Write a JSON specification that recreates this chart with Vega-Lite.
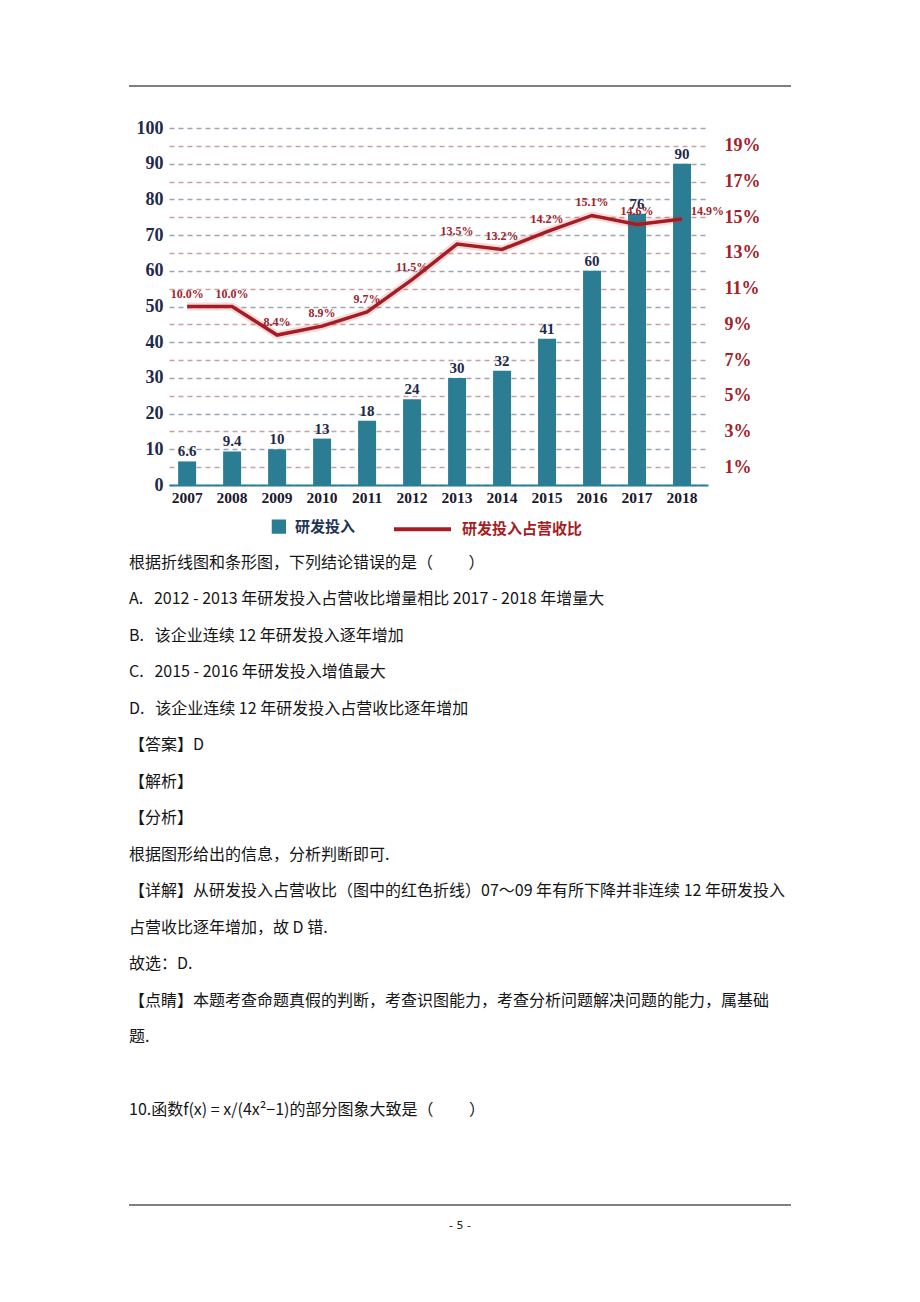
{
  "$schema": "https://vega.github.io/schema/vega-lite/v6.json",
  "background": "white",
  "padding": {"left": 128, "top": 85, "right": 0, "bottom": 0},
  "config": {"view": {"stroke": null}, "axis": {"labelOverlap": false}},
  "spacing": 0,
  "bounds": "flush",
  "datasets": {
    "rd": [
      {"year": 2007, "rd": 6.6, "pct": 0.100},
      {"year": 2008, "rd": 9.4, "pct": 0.100},
      {"year": 2009, "rd": 10, "pct": 0.084},
      {"year": 2010, "rd": 13, "pct": 0.089},
      {"year": 2011, "rd": 18, "pct": 0.097},
      {"year": 2012, "rd": 24, "pct": 0.115},
      {"year": 2013, "rd": 30, "pct": 0.135},
      {"year": 2014, "rd": 32, "pct": 0.132},
      {"year": 2015, "rd": 41, "pct": 0.142},
      {"year": 2016, "rd": 60, "pct": 0.151},
      {"year": 2017, "rd": 76, "pct": 0.146},
      {"year": 2018, "rd": 90, "pct": 0.149}
    ],
    "lines": [
      {"line": 0, "text": "根据折线图和条形图，下列结论错误的是（　　 ）"},
      {"line": 1, "text": "A.\u00a0\u00a0 2012 - 2013 年研发投入占营收比增量相比 2017 - 2018 年增量大"},
      {"line": 2, "text": "B.\u00a0\u00a0 该企业连续 12 年研发投入逐年增加"},
      {"line": 3, "text": "C.\u00a0\u00a0 2015 - 2016 年研发投入增值最大"},
      {"line": 4, "text": "D.\u00a0\u00a0 该企业连续 12 年研发投入占营收比逐年增加"},
      {"line": 5, "text": "【答案】D"},
      {"line": 6, "text": "【解析】"},
      {"line": 7, "text": "【分析】"},
      {"line": 8, "text": "根据图形给出的信息，分析判断即可."},
      {"line": 9, "text": "【详解】从研发投入占营收比（图中的红色折线）07～09 年有所下降并非连续 12 年研发投入"},
      {"line": 10, "text": "占营收比逐年增加，故 D 错."},
      {"line": 11, "text": "故选：D."},
      {"line": 12, "text": "【点睛】本题考查命题真假的判断，考查识图能力，考查分析问题解决问题的能力，属基础"},
      {"line": 13, "text": "题."},
      {"line": 15, "text": "10.函数f(x) = x/(4x²−1)的部分图象大致是（　　 ）"}
    ]
  },
  "vconcat": [
    {
      "width": 662,
      "height": 42,
      "data": {"values": [{}]},
      "mark": {"type": "rule", "color": "#000000", "strokeWidth": 1, "xOffset": -40, "x2Offset": -40},
      "encoding": {
        "x": {"datum": 0, "type": "quantitative", "scale": {"domain": [0, 1]}, "axis": null},
        "x2": {"datum": 1},
        "y": {"datum": 1, "type": "quantitative", "scale": {"domain": [0, 1]}, "axis": null}
      }
    },
    {
      "width": 539,
      "height": 357,
      "data": {"name": "rd"},
      "layer": [
        {
          "layer": [
            {
              "mark": {"type": "bar", "color": "#2a7d93"},
              "encoding": {
                "x": {
                  "field": "year", "type": "ordinal",
                  "scale": {"paddingInner": 0.6, "paddingOuter": 0.29, "align": 0.35},
                  "axis": {
                    "title": null, "labelAngle": 0, "ticks": false,
                    "domain": true, "domainColor": "#2b7f97", "domainWidth": 2,
                    "labelFont": "Liberation Serif", "labelFontWeight": "bold",
                    "labelFontSize": 15.5, "labelColor": "#1b1b2b", "labelPadding": 5
                  }
                },
                "y": {
                  "field": "rd", "type": "quantitative",
                  "scale": {"domain": [0, 100], "nice": false},
                  "axis": {
                    "title": null, "orient": "left",
                    "values": [0, 5, 10, 15, 20, 25, 30, 35, 40, 45, 50, 55, 60, 65, 70, 75, 80, 85, 90, 95, 100],
                    "labelExpr": "datum.value % 10 === 0 ? datum.label : ''",
                    "labelOverlap": false,
                    "domain": false, "ticks": false,
                    "grid": true, "gridDash": [5, 4], "gridWidth": 1.5,
                    "gridColor": {"condition": {"test": "datum.value % 10 === 0", "value": "#9aa6b4"}, "value": "#c9a0a4"},
                    "labelFont": "Liberation Serif", "labelFontWeight": "bold",
                    "labelFontSize": 18, "labelColor": "#1e2a4a", "labelPadding": 6
                  }
                },
                "color": {
                  "datum": "研发投入",
                  "scale": {"domain": ["研发投入", "研发投入占营收比"], "range": ["#2a7d93", "#a51d24"]},
                  "legend": {
                    "orient": "none", "legendX": 56, "legendY": 410,
                    "direction": "horizontal", "title": null,
                    "symbolSize": 3249, "labelOffset": 9, "columnPadding": 30,
                    "labelFont": "Noto Sans CJK SC", "labelFontWeight": "bold", "labelFontSize": 15,
                    "encode": {
                      "symbols": {"update": {
                        "shape": {"signal": "datum.value === '研发投入' ? 'M0.64,-0.18H1V0.18H0.64Z' : 'stroke'"},
                        "fill": {"signal": "datum.value === '研发投入' ? '#3a8aa2' : 'transparent'"},
                        "stroke": {"signal": "datum.value === '研发投入' ? 'transparent' : '#a51d24'"},
                        "strokeWidth": {"value": 4},
                        "opacity": {"value": 1}
                      }},
                      "labels": {"update": {
                        "fill": {"signal": "datum.value === '研发投入' ? '#1f3556' : '#a51d24'"}
                      }}
                    }
                  }
                }
              }
            },
            {
              "mark": {"type": "text", "dy": -10, "font": "Liberation Serif", "fontWeight": "bold", "fontSize": 15, "color": "#1e2a4a"},
              "encoding": {
                "x": {"field": "year", "type": "ordinal", "title": null},
                "y": {
                  "field": "rd", "type": "quantitative",
                  "scale": {"domain": [0, 100], "nice": false},
                  "axis": {
                    "title": null, "orient": "left",
                    "values": [0, 5, 10, 15, 20, 25, 30, 35, 40, 45, 50, 55, 60, 65, 70, 75, 80, 85, 90, 95, 100],
                    "labelExpr": "datum.value % 10 === 0 ? datum.label : ''",
                    "labelOverlap": false,
                    "domain": false, "ticks": false,
                    "grid": true, "gridDash": [5, 4], "gridWidth": 1.5,
                    "gridColor": {"condition": {"test": "datum.value % 10 === 0", "value": "#9aa6b4"}, "value": "#c9a0a4"},
                    "labelFont": "Liberation Serif", "labelFontWeight": "bold",
                    "labelFontSize": 18, "labelColor": "#1e2a4a", "labelPadding": 6
                  }
                },
                "text": {"field": "rd", "type": "quantitative"}
              }
            }
          ]
        },
        {
          "layer": [
            {
              "mark": {"type": "line", "strokeWidth": 8, "opacity": 0.18, "color": "#d03030"},
              "encoding": {
                "x": {"field": "year", "type": "ordinal", "title": null},
                "y": {
                  "field": "pct", "type": "quantitative",
                  "scale": {"domain": [0, 0.2], "nice": false},
                  "axis": {
                    "title": null, "orient": "right",
                    "values": [0.01, 0.03, 0.05, 0.07, 0.09, 0.11, 0.13, 0.15, 0.17, 0.19],
                    "format": ".0%", "domain": false, "ticks": false, "grid": false,
                    "labelOverlap": false,
                    "labelFont": "Liberation Serif", "labelFontWeight": "bold",
                    "labelFontSize": 18, "labelColor": "#a3222a", "labelPadding": 16
                  }
                }
              }
            },
            {
              "mark": {"type": "line", "strokeWidth": 3.5},
              "encoding": {
                "x": {"field": "year", "type": "ordinal", "title": null},
                "y": {
                  "field": "pct", "type": "quantitative",
                  "scale": {"domain": [0, 0.2], "nice": false},
                  "axis": {
                    "title": null, "orient": "right",
                    "values": [0.01, 0.03, 0.05, 0.07, 0.09, 0.11, 0.13, 0.15, 0.17, 0.19],
                    "format": ".0%", "domain": false, "ticks": false, "grid": false,
                    "labelOverlap": false,
                    "labelFont": "Liberation Serif", "labelFontWeight": "bold",
                    "labelFontSize": 18, "labelColor": "#a3222a", "labelPadding": 16
                  }
                },
                "color": {"datum": "研发投入占营收比"}
              }
            },
            {
              "transform": [{"filter": "datum.year !== 2018"}],
              "mark": {"type": "text", "dy": -13, "font": "Liberation Serif", "fontWeight": "bold", "fontSize": 12, "color": "#a0232b"},
              "encoding": {
                "x": {"field": "year", "type": "ordinal", "title": null},
                "y": {
                  "field": "pct", "type": "quantitative",
                  "scale": {"domain": [0, 0.2], "nice": false},
                  "axis": {
                    "title": null, "orient": "right",
                    "values": [0.01, 0.03, 0.05, 0.07, 0.09, 0.11, 0.13, 0.15, 0.17, 0.19],
                    "format": ".0%", "domain": false, "ticks": false, "grid": false,
                    "labelOverlap": false,
                    "labelFont": "Liberation Serif", "labelFontWeight": "bold",
                    "labelFontSize": 18, "labelColor": "#a3222a", "labelPadding": 16
                  }
                },
                "text": {"field": "pct", "type": "quantitative", "format": ".1%"}
              }
            },
            {
              "transform": [{"filter": "datum.year === 2018"}],
              "mark": {"type": "text", "align": "left", "dx": 9, "dy": -8, "font": "Liberation Serif", "fontWeight": "bold", "fontSize": 12, "color": "#a0232b"},
              "encoding": {
                "x": {"field": "year", "type": "ordinal", "title": null},
                "y": {
                  "field": "pct", "type": "quantitative",
                  "scale": {"domain": [0, 0.2], "nice": false},
                  "axis": {
                    "title": null, "orient": "right",
                    "values": [0.01, 0.03, 0.05, 0.07, 0.09, 0.11, 0.13, 0.15, 0.17, 0.19],
                    "format": ".0%", "domain": false, "ticks": false, "grid": false,
                    "labelOverlap": false,
                    "labelFont": "Liberation Serif", "labelFontWeight": "bold",
                    "labelFontSize": 18, "labelColor": "#a3222a", "labelPadding": 16
                  }
                },
                "text": {"field": "pct", "type": "quantitative", "format": ".1%"}
              }
            }
          ]
        }
      ],
      "resolve": {"scale": {"y": "independent"}}
    },
    {
      "width": 662,
      "height": 720,
      "data": {"name": "lines"},
      "mark": {"type": "text", "align": "left", "baseline": "middle", "dx": -40, "font": "Noto Sans CJK SC", "fontSize": 16, "color": "#151515"},
      "encoding": {
        "x": {"datum": 0, "type": "quantitative", "scale": {"domain": [0, 1]}, "axis": null},
        "y": {"field": "line", "type": "quantitative", "scale": {"domain": [-2.137, 17.59], "reverse": true, "nice": false, "zero": false}, "axis": null},
        "text": {"field": "text"}
      }
    },
    {
      "width": 662,
      "height": 42,
      "data": {"values": [{"page": "- 5 -"}]},
      "layer": [
        {
          "mark": {"type": "rule", "color": "#000000", "strokeWidth": 1, "xOffset": -40, "x2Offset": -40},
          "encoding": {
            "x": {"datum": 0, "type": "quantitative", "scale": {"domain": [0, 1]}, "axis": null},
            "x2": {"datum": 1},
            "y": {"datum": 1, "type": "quantitative", "scale": {"domain": [0, 1]}, "axis": null}
          }
        },
        {
          "mark": {"type": "text", "dx": -40, "font": "DejaVu Sans", "fontSize": 11, "color": "#222222"},
          "encoding": {
            "x": {"datum": 0.5, "type": "quantitative", "axis": null},
            "y": {"datum": 0.5, "type": "quantitative", "axis": null},
            "text": {"field": "page"}
          }
        }
      ]
    }
  ]
}
